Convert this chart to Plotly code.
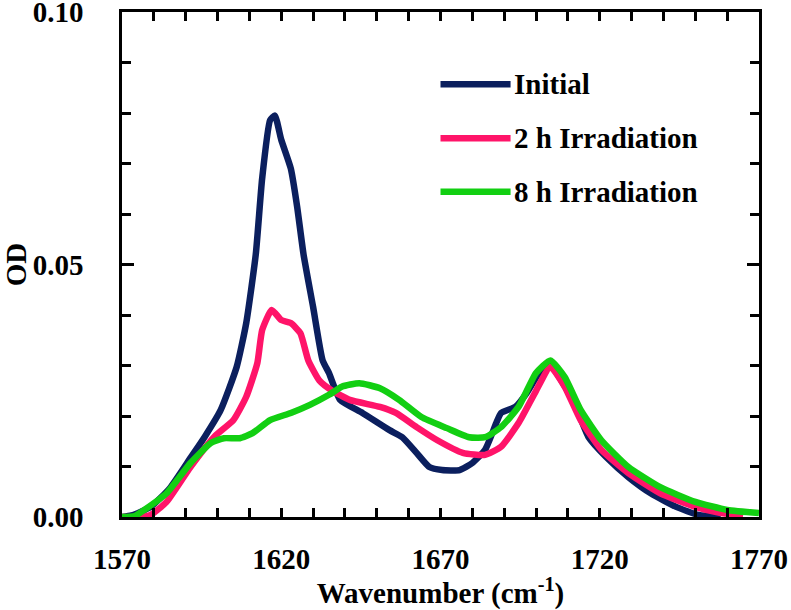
import plotly.graph_objects as go

# ---- data ----
initial_x = [1570, 1573, 1579, 1585, 1591.5, 1596, 1601, 1606, 1609, 1612, 1614, 1616.5, 1618, 1620,
             1623, 1625, 1627, 1630, 1633, 1635, 1638.5, 1645.5, 1654, 1658, 1662.5, 1666.5, 1670.5,
             1676, 1680, 1684, 1687.5, 1689, 1693.5, 1697, 1701, 1704.5, 1708, 1712.5, 1716.5, 1722,
             1729, 1736, 1744, 1751, 1758]
initial_y = [0, 0.0003, 0.002, 0.0057, 0.0117, 0.0159, 0.0212, 0.0297, 0.0384, 0.052, 0.067, 0.0786,
             0.0795, 0.0747, 0.069, 0.0614, 0.052, 0.0416, 0.031, 0.0285, 0.0232, 0.0206, 0.0172,
             0.0158, 0.0127, 0.0099, 0.0093, 0.0093, 0.0107, 0.0133, 0.0186, 0.0206, 0.0218, 0.0245,
             0.0285, 0.0300, 0.027, 0.0218, 0.0158, 0.0119, 0.0079, 0.0047, 0.002, 0.0004, 0]

h2_x = [1570, 1576, 1579, 1584, 1591.5, 1599, 1605, 1609, 1612.5, 1614, 1617, 1620, 1623, 1626,
        1628.5, 1632, 1636, 1641.5, 1651, 1656, 1662.5, 1669, 1677, 1684, 1689, 1694.5, 1700,
        1704.5, 1709, 1714, 1720.5, 1729, 1739, 1750, 1758, 1765]
h2_y = [0, 0, 0.0004, 0.003, 0.0099, 0.0159, 0.0192, 0.0238, 0.0305, 0.037, 0.041, 0.039, 0.0384,
        0.0364, 0.031, 0.027, 0.025, 0.0232, 0.0218, 0.0206, 0.0178, 0.0152, 0.0127, 0.0123,
        0.0139, 0.0186, 0.025, 0.0297, 0.0258, 0.0192, 0.0133, 0.0087, 0.0047, 0.002, 0.0008, 0.0003]

h8_x = [1570, 1574, 1577, 1584, 1591.5, 1598, 1602, 1607, 1611, 1616.5, 1623, 1629, 1635, 1639,
        1644.5, 1651, 1657, 1664, 1672, 1679, 1684, 1689, 1694.5, 1700, 1704.5, 1709, 1714,
        1720.5, 1729, 1739, 1750, 1760, 1770]
h8_y = [0, 0.0002, 0.0014, 0.0047, 0.0107, 0.0147, 0.0156, 0.0156, 0.0166, 0.0192, 0.0206, 0.0222,
        0.0242, 0.0258, 0.0265, 0.0255, 0.0232, 0.0198, 0.0176, 0.0158, 0.0158, 0.0178, 0.0218,
        0.0285, 0.031, 0.0277, 0.0212, 0.0152, 0.0099, 0.0059, 0.003, 0.0014, 0.0008]

series_names = ["Initial", "2 h Irradiation", "8 h Irradiation"]
series_colors = ["#0b1f5e", "#ff1469", "#12cf12"]
series_x = [initial_x, h2_x, h8_x]
series_y = [initial_y, h2_y, h8_y]

x_ticks = [1570, 1620, 1670, 1720, 1770]
x_all_ticks = [1570, 1580, 1590, 1600, 1610, 1620, 1630, 1640, 1650, 1660, 1670,
               1680, 1690, 1700, 1710, 1720, 1730, 1740, 1750, 1760, 1770]
y_ticks = [0.00, 0.05, 0.10]
x_range = [1570, 1770]
y_range = [0, 0.10001]

FONT = "Liberation Serif, Times New Roman, serif"

fig = go.Figure()
for name, color, xs, ys in zip(series_names, series_colors, series_x, series_y):
    fig.add_trace(go.Scatter(x=xs, y=ys, mode="lines", name=name,
                             line=dict(color=color, width=6.5, shape="spline", smoothing=0.5),
                             showlegend=False))

# manual legend (long line samples like the reference)
leg_y = [0.857, 0.750, 0.644]
for name, color, yy in zip(series_names, series_colors, leg_y):
    fig.add_shape(type="line", xref="paper", yref="paper", x0=0.50, x1=0.61, y0=yy, y1=yy,
                  line=dict(color=color, width=6.5))
    fig.add_annotation(xref="paper", yref="paper", x=0.613, y=yy, text=name, showarrow=False,
                       xanchor="left", yanchor="middle",
                       font=dict(family=FONT, size=29, color="black", weight="bold"))

tickfont = dict(family=FONT, size=29, color="black", weight="bold")

fig.update_layout(
    xaxis=dict(range=x_range, tickmode="array", tickvals=x_all_ticks,
               ticktext=[str(v) if v in x_ticks else "" for v in x_all_ticks],
               showline=True, linecolor="black", linewidth=2.5, mirror="ticks",
               ticks="inside", tickcolor="black", tickwidth=2.5, ticklen=9,
               showgrid=False, zeroline=False, automargin=False, ticklabeloverflow="allow",
               tickfont=tickfont, ticklabelstandoff=14, layer="above traces",
               title=dict(text="Wavenumber (cm<sup>-1</sup>)", standoff=2, font=tickfont)),
    yaxis=dict(range=y_range, tickvals=y_ticks, ticktext=[f"{v:.2f}" for v in y_ticks],
               showline=True, linecolor="black", linewidth=2.5, mirror="allticks",
               ticks="inside", tickcolor="black", tickwidth=2.5, ticklen=12,
               minor=dict(dtick=0.01, ticks="inside", ticklen=9, tickwidth=2.5, tickcolor="black"),
               showgrid=False, zeroline=False, automargin=False, ticklabeloverflow="allow",
               tickfont=tickfont, ticklabelstandoff=30,
               title=dict(text="OD", standoff=26, font=tickfont)),
    width=791, height=610, margin=dict(l=122, r=32, t=12, b=93),
    plot_bgcolor="white", paper_bgcolor="white", showlegend=False,
    font=dict(family=FONT, color="black"),
)

fig.write_html("out.html", config={"displayModeBar": False},
               post_script="document.body.style.margin='0';")
